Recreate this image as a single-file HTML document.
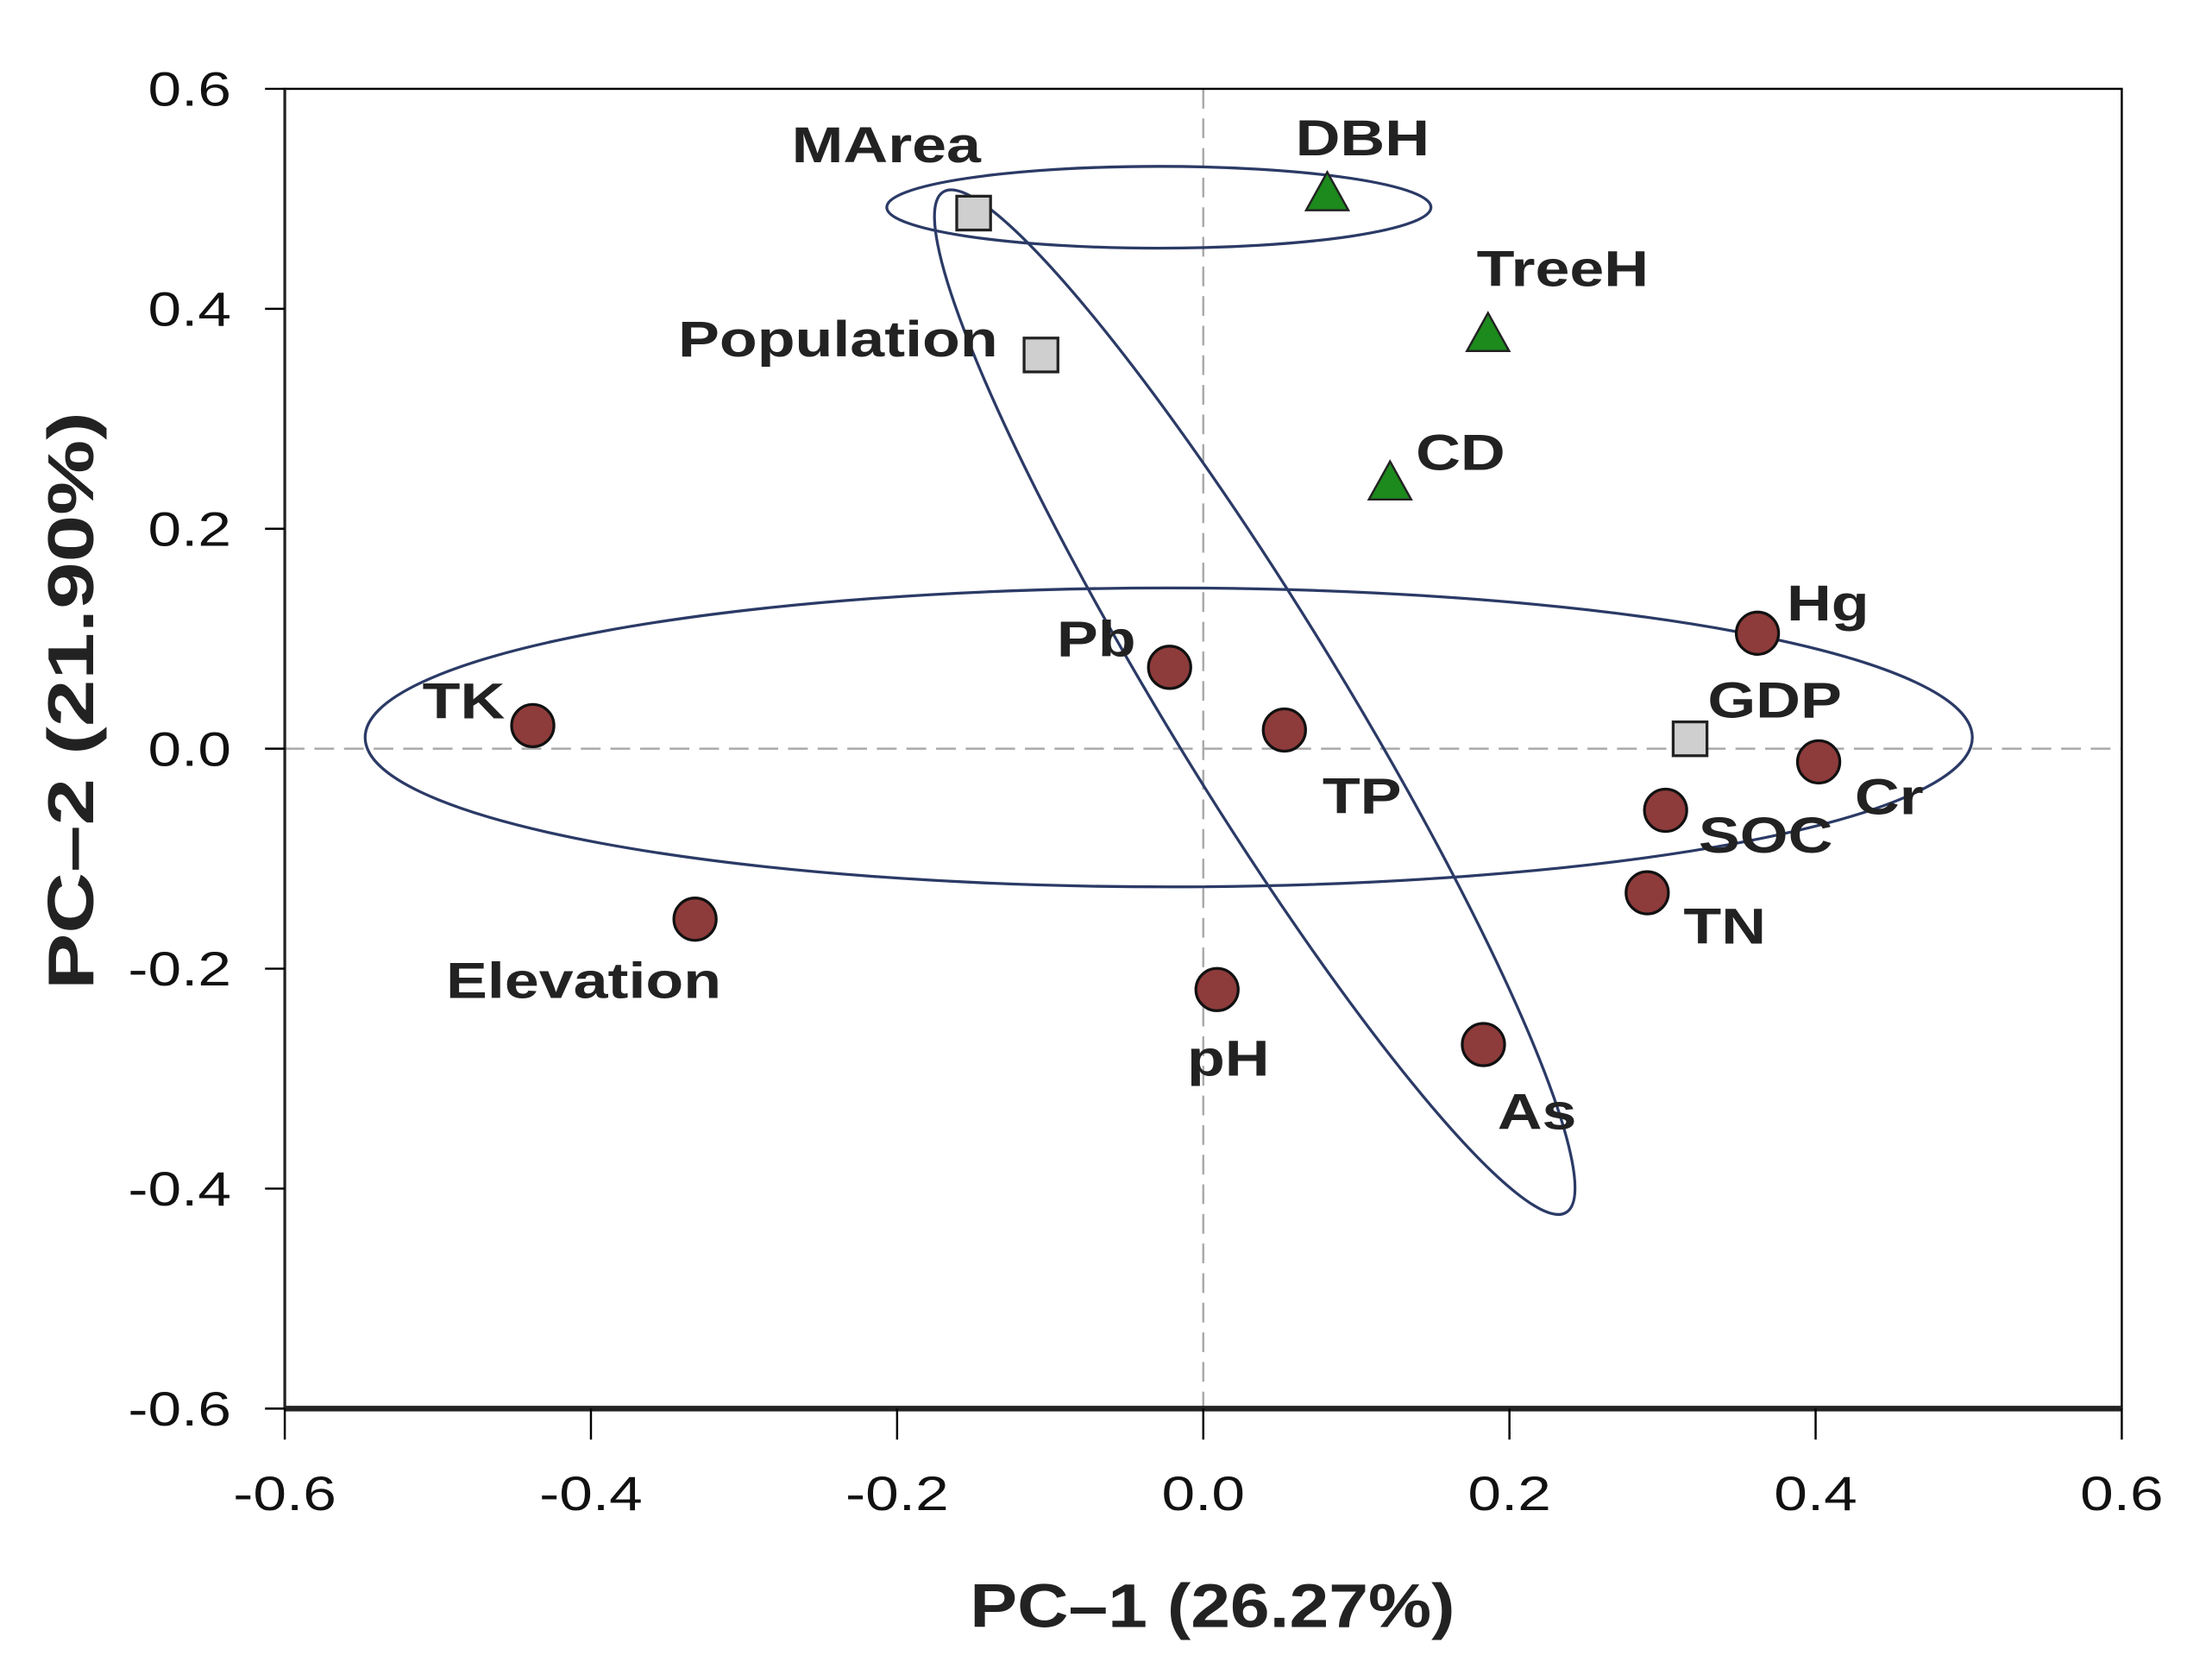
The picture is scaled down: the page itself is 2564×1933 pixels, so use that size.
<!DOCTYPE html>
<html><head><meta charset="utf-8">
<style>
html,body{margin:0;padding:0;background:#fff;}
svg{display:block;}
text{font-family:"Liberation Sans",Arial,sans-serif;}
</style></head>
<body>
<svg id="chart" width="2564" height="1933" viewBox="-2 -2 1569 1183" preserveAspectRatio="none" xmlns="http://www.w3.org/2000/svg">
<rect x="-2" y="-2" width="1569" height="1183" fill="#fff"/>
<g id="g"></g>
</svg>
<script>
const names = ["MArea","Population","GDP","DBH","TreeH","CD","Hg","Cr","SOC","TN","As","pH","TP","Pb","TK","Elevation"];
const pc1 = [-0.150,-0.106,0.318,0.081,0.186,0.122,0.362,0.402,0.302,0.290,0.183,0.009,0.053,-0.022,-0.438,-0.332];
const pc2 = [0.487,0.358,0.009,0.505,0.377,0.242,0.105,-0.012,-0.056,-0.131,-0.269,-0.219,0.017,0.074,0.021,-0.155];
const groups = ["sq","sq","sq","tri","tri","tri","c","c","c","c","c","c","c","c","c","c"];
const xTicks = [-0.6,-0.4,-0.2,0.0,0.2,0.4,0.6];
const yTicks = [-0.6,-0.4,-0.2,0.0,0.2,0.4,0.6];
const xTickLabels = ["-0.6","-0.4","-0.2","0.0","0.2","0.4","0.6"];
const yTickLabels = ["-0.6","-0.4","-0.2","0.0","0.2","0.4","0.6"];
// label offsets in px relative to marker (layout, not data)
const labelDx = [-62,-144,60,25,53,50,50,50,71,55,38,8,55,-52,-49,-79];
const labelDy = [-49,-12,-28,-40,-47,-22,-22,24,17,23,47,48,46,-21,-18,43];

const L=200,R=1503,T=61,B=997;
const X=v=>L+(v+0.6)/1.2*(R-L);
const Y=v=>B-(v+0.6)/1.2*(B-T);
const NS="http://www.w3.org/2000/svg";
const g=document.getElementById('g');
function mk(tag,attrs){const e=document.createElementNS(NS,tag);for(const k in attrs)e.setAttribute(k,attrs[k]);g.appendChild(e);return e;}
function stretch(t,f){try{const w=t.getComputedTextLength();if(w>0){t.setAttribute('textLength',w*f);t.setAttribute('lengthAdjust','spacingAndGlyphs');}}catch(err){}}

let e=mk('line',{x1:X(0),x2:X(0),y1:T,y2:B,stroke:'#aaa','stroke-width':1.5,'stroke-dasharray':'14,7'});


e=mk('line',{x1:L,x2:R,y1:Y(0),y2:Y(0),stroke:'#aaa','stroke-width':1.5,'stroke-dasharray':'14,7'});



e=mk('rect',{x:L,y:T,width:R-L,height:B-T,fill:'none',stroke:'#000','stroke-width':1.5});


e=mk('line',{x1:L,x2:R,y1:B,y2:B,stroke:'#222','stroke-width':4});


e=mk('line',{x1:L,x2:L,y1:T,y2:B,stroke:'#222','stroke-width':2});



xTicks.forEach((v,i)=>{
  let t=mk('line',{x1:X(v),x2:X(v),y1:B,y2:B+22,stroke:'#000','stroke-width':1.5});
  
  
  let s=mk('text',{x:X(v),y:B+72,'text-anchor':'middle','font-size':34,fill:'#111'});
  s.textContent=xTickLabels[i];
  
  
  stretch(s,1.25);
});
yTicks.forEach((v,i)=>{
  let t=mk('line',{x1:L-14,x2:L,y1:Y(v),y2:Y(v),stroke:'#000','stroke-width':1.5});
  
  
  let s=mk('text',{x:L-38,y:Y(v)+12,'text-anchor':'end','font-size':34,fill:'#111'});
  s.textContent=yTickLabels[i];
  
  
  stretch(s,1.25);
});

e=mk('ellipse',{cx:820,cy:145,rx:193,ry:29,fill:'none',stroke:'#2b3a66','stroke-width':2});


e=mk('ellipse',{cx:827,cy:521,rx:570,ry:106,fill:'none',stroke:'#2b3a66','stroke-width':2});


e=mk('ellipse',{cx:888,cy:496,rx:424,ry:62,fill:'none',stroke:'#2b3a66','stroke-width':2,transform:'rotate(58.6 888 496)'});



names.forEach((n,i)=>{
  const cx=X(pc1[i]),cy=Y(pc2[i]);
  let m;
  if(groups[i]==='sq'){
    m=mk('rect',{x:cx-12,y:cy-12,width:24,height:24,fill:'#cfcfcf',stroke:'#222','stroke-width':2});
  }else if(groups[i]==='tri'){
    m=mk('polygon',{points:`${cx},${cy-15} ${cx-15},${cy+12} ${cx+15},${cy+12}`,fill:'#1c8a1c',stroke:'#222','stroke-width':1.5});
  }else{
    m=mk('circle',{cx:cx,cy:cy,r:15,fill:'#8e3b3b',stroke:'#111','stroke-width':2});
  }
  
  
  let t=mk('text',{x:cx+labelDx[i],y:cy+labelDy[i]+13,'text-anchor':'middle','font-size':36,'font-weight':'bold',fill:'#222'});
  t.textContent=n;
  
  
  stretch(t,1.22);
});

e=mk('text',{x:858,y:1152,'text-anchor':'middle','font-size':44,'font-weight':'bold',fill:'#222',textLength:344,lengthAdjust:'spacingAndGlyphs'});
e.textContent='PC\u20131 (26.27%)';


e=mk('text',{x:0,y:0,'text-anchor':'middle','font-size':46,'font-weight':'bold',fill:'#222',textLength:410,lengthAdjust:'spacingAndGlyphs',transform:'translate(64 495) rotate(-90)'});
e.textContent='PC\u20132 (21.90%)';


</script>
</body></html>
